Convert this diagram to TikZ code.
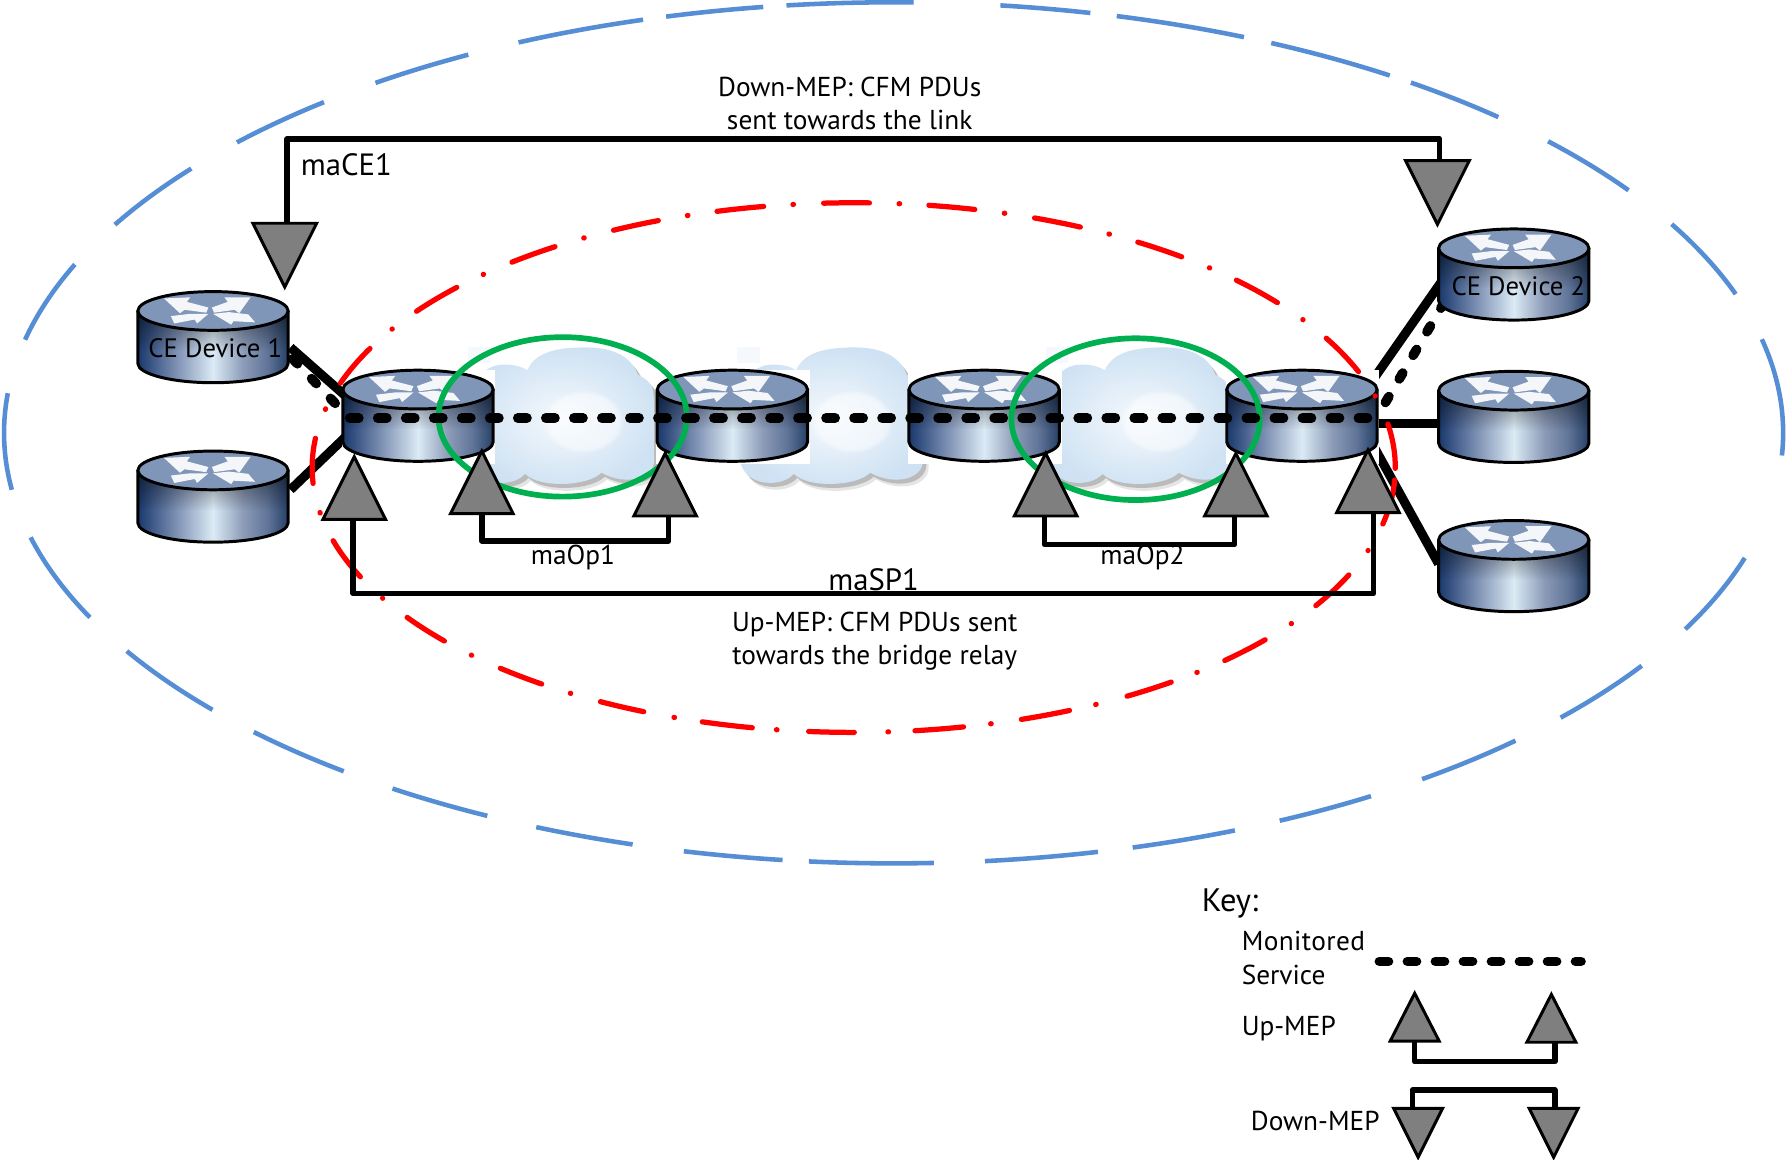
\documentclass[tikz,border=0pt]{standalone}
\usepackage{fontspec}
\setmainfont{PT Sans}
\usetikzlibrary{shapes.geometric,fadings,calc}
\definecolor{bluedash}{HTML}{558ED5}
\definecolor{greenring}{HTML}{00B050}
\definecolor{routertop}{HTML}{7F96B8}
\definecolor{meptri}{HTML}{7F7F7F}
\definecolor{cloudedge}{HTML}{CFE2F3}
\definecolor{cloudmid}{HTML}{F5F9FD}
\definecolor{iconwhite}{HTML}{F4F6FA}
\pgfdeclarehorizontalshading{routerbody}{100bp}{
  rgb(0bp)=(0.10,0.22,0.42);
  rgb(25bp)=(0.10,0.22,0.42);
  rgb(31bp)=(0.28,0.38,0.56);
  rgb(40bp)=(0.56,0.63,0.75);
  rgb(50bp)=(0.86,0.92,0.96);
  rgb(60bp)=(0.55,0.61,0.72);
  rgb(68bp)=(0.38,0.46,0.60);
  rgb(75bp)=(0.15,0.25,0.40);
  rgb(100bp)=(0.15,0.25,0.40)}
\tikzset{
  wire/.style={line width=4.8pt,line join=round},
  thickwire/.style={line width=8pt},
  service/.style={line width=8.5pt,dash pattern=on 8pt off 16.6pt,line cap=round},
  svcwire/.style={line width=8.5pt,dash pattern=on 6pt off 18pt,line cap=round},
  bluearc/.style={bluedash,line width=4pt},
  redarc/.style={red,line width=4.6pt,line cap=round},
  ring/.style={greenring,line width=5pt},
  upmep/.style={shape=isosceles triangle,isosceles triangle stretches,shape border rotate=90,minimum width=55pt,minimum height=55pt,inner sep=0pt,outer sep=0pt,draw=black,line width=2.6pt,fill=meptri,anchor=lower side},
  downmep/.style={shape=isosceles triangle,isosceles triangle stretches,shape border rotate=-90,minimum width=56pt,minimum height=56pt,inner sep=0pt,outer sep=0pt,draw=black,line width=2.6pt,fill=meptri,anchor=lower side},
  keyup/.style={upmep,minimum width=43pt,minimum height=42pt},
  keydown/.style={downmep,minimum width=43pt,minimum height=43pt},
  routerbox/.style={minimum width=132pt,minimum height=80pt,inner sep=0pt,outer sep=0pt},
  lbl/.style={inner sep=0pt,font=\fontsize{24}{29}\selectfont,align=center},
  devlbl/.style={inner sep=0pt,font=\fontsize{23.4}{28}\selectfont},
  biglbl/.style={inner sep=0pt,font=\fontsize{27}{32}\selectfont},
  keylbl/.style={inner sep=0pt,font=\fontsize{28.5}{32}\selectfont},
}
\newcommand{\routergfx}[3]{% name, left, top
  \begin{scope}[shift={(#2,#3)}]
    \shade[shading=routerbody] (0,17) -- (0,63) arc[start angle=180,end angle=0,x radius=66,y radius=17] -- (132,17) -- cycle;
    \fill[black,opacity=.5,path fading=south] (0,17) rectangle (132,52);
    \draw[line width=2.6pt] (0,17) -- (0,63) arc[start angle=180,end angle=0,x radius=66,y radius=17] -- (132,17);
    \draw[line width=2.6pt,fill=routertop] (66,17) ellipse[x radius=66,y radius=17];
    \fill[iconwhite] (23,6) -- (46,5) -- (43,9) -- (62,14) -- (60,18.5) -- (41,16) -- (37,19) -- cycle;
    \fill[iconwhite] (29,21.5) -- (46,19.5) -- (62,19.5) -- (52,28) -- (50,24.5) -- (32,28) -- cycle;
    \fill[iconwhite] (99,5) -- (76,5) -- (79,9) -- (65,14) -- (67,18.5) -- (85,16) -- (89,19) -- cycle;
    \fill[iconwhite] (66,19.5) -- (80,18) -- (97,20) -- (103,27) -- (84,26) -- (82,29) -- cycle;
    \node[routerbox] (#1) at (66,40) {};
  \end{scope}}
\newcommand{\cloudpath}{(-80,50) .. controls (-78,28) and (-70,16) .. (-52,15) .. controls (-42,15) and (-36,17) .. (-31,20) .. controls (-24,4) and (-5,0) .. (20,0) .. controls (45,0) and (60,8) .. (66,24) .. controls (74,28) and (80,32) .. (80,45) -- (80,95) .. controls (84,116) and (55,122) .. (34,110) .. controls (22,122) and (-20,124) .. (-33,111) .. controls (-45,125) and (-85,122) .. (-80,90) -- cycle}
\newcommand{\cloudgfx}[1]{%
  \begin{scope}[shift={(#1,305)}]
    \fill[black,opacity=.10] [shift={(5,6)}] \cloudpath;
    \fill[black,opacity=.18] [shift={(3,3.5)}] \cloudpath;
    \fill[cloudmid] (-83,0) rectangle (-63,14);
    \shade[inner color=cloudmid,outer color=cloudedge] \cloudpath;
    \fill[white,opacity=.5,path fading=circle with fuzzy edge 15 percent] (18,65) ellipse[x radius=36,y radius=28];
  \end{scope}}
\begin{document}
\begin{tikzpicture}[x=1pt,y=-1pt]
\useasboundingbox[fill=white] (0,0) rectangle (1568,1018.4);
% blue outer dashes
\foreach \xa/\ya/\xb/\yb in {20/298/65/232,100/197/168/148,208/125/285/90,330/73/410/47,455/37/565/18,585/15/670/6,690/3/802/3,878/6/957/12,980/15/1090/35,1112/42/1215/70,1238/73/1315/103,1357/125/1430/167,1467/197/1525/258,1545/298/1567/400,1533/490/1478/552,1443/585/1370/630,1330/650/1250/685,1205/700/1125/722,1085/730/995/745,965/750/865/757,820/758/710/757,687/755/600/748,555/742/470/727,427/717/345/692,302/677/222/643,182/625/110/572,75/543/25/472,10/430/3/345}{
  \pgfmathsetmacro\ta{atan2((\ya-380)/378,(\xa-784.5)/781)}
  \pgfmathsetmacro\tb{atan2((\yb-380)/378,(\xb-784.5)/781)}
  \pgfmathsetmacro\tc{\tb<\ta ? \tb+360 : \tb}
  \draw[bluearc] ({784.5+781*cos(\ta)},{380+378*sin(\ta)}) arc[start angle=\ta,end angle=\tc,x radius=781,y radius=378];
}
% clouds
\cloudgfx{494}
\cloudgfx{730}
\cloudgfx{1001}
% wires
\coordinate (ce1a) at (255,305);
\coordinate (r3a) at (305,349);
\coordinate (ce1b) at (257,315);
\coordinate (r3b) at (298,358);
\coordinate (r2a) at (255,430);
\coordinate (r3c) at (305,382);
\coordinate (ce2a) at (1265,248);
\coordinate (r6a) at (1205,334);
\coordinate (ce2b) at (1268,265.4);
\coordinate (r6b) at (1213,359);
\coordinate (r8a) at (1263,372);
\coordinate (r6c) at (1205,372);
\coordinate (r9a) at (1263,495);
\coordinate (r6d) at (1205,390);
\draw[thickwire] (ce1a) -- (r3a);
\draw[svcwire] (ce1b) -- (r3b);
\draw[thickwire] (r2a) -- (r3c);
\draw[thickwire] (ce2a) -- (r6a);
\draw[thickwire] (r8a) -- (r6c);
\draw[thickwire] (r9a) -- (r6d);
% routers
\fill[white] (300,325) rectangle (435,407);
\fill[white] (576,325) rectangle (711,407);
\fill[white] (797,325) rectangle (932,407);
\fill[white] (1076.5,325) rectangle (1211,407);
\draw[svcwire] (ce2b) -- (r6b);
\routergfx{ce1}{121}{256}
\routergfx{r2}{121}{396}
\routergfx{r3}{301}{325}
\routergfx{r4}{577}{325}
\routergfx{r5}{798}{325}
\routergfx{r6}{1077}{325}
\routergfx{ce2}{1263}{201}
\routergfx{r8}{1263}{326}
\routergfx{r9}{1263}{457}
% red inner dashes
\foreach \xa/\ya/\xb/\yb in {300/336.5/325/306,344.4/289/344.9/289,366.7/273.6/401/252.3,424.4/241/424.9/241,449.8/230.3/487.3/216.6,512.2/208.7/512.7/208.7,538.5/202/578/193.8,603.2/188.8/603.7/188.8,629.2/185/670.2/180.6,696/179/696.5/179,723/178/763.3/178,789.3/179/789.8/179,815.6/180/856/183.5,882/186.7/882.5/186.7,908.7/190.8/948.2/199.6,973.7/205.4/974.2/205.4,999.4/212.2/1037.5/225.4,1061.5/235.3/1062/235.3,1085.8/245.8/1121.5/265.7,1143.4/280.7/1143.9/280.7,1164.2/297/1192.6/326.3,1206.6/347.7/1207/347.7,1218/372.3/1224.2/411.2,1224/421.4/1214/460,1200.5/483.2/1200/483.2,1184.4/504.8/1154.5/531.5,1133.5/547.3/1133/547.3,1111.5/562/1075.5/580,1051.2/590.3/1050.7/590.3,1027/598/988/610,962/618/961.5/618,940/625/897/632,870/635/869.5/635,845/636/803/640,780/642/779.5/642,750/643/710/642,682/641/681.5/641,660/640/617/633,591.8/630.4/591.3/630.4,565.4/624.5/526.8/616.3,500.7/609/500.2/609,475.6/600.5/439/586.8,413.8/575.4/413.3/575.4,390/562.8/357.6/542,335.7/525.3/335.2/525.3,316.9/506.3/292.7/474.7,281.2/450.4/281/450,275/424.4/276.9/384.8,286/359.4/286.1/359}{
  \pgfmathsetmacro\ta{atan2((\ya-410.5)/232.5,(\xa-749.5)/475.5)}
  \pgfmathsetmacro\tb{atan2((\yb-410.5)/232.5,(\xb-749.5)/475.5)}
  \pgfmathsetmacro\tc{\tb<\ta ? \tb+360 : \tb}
  \pgfmathsetmacro\td{\tc-\ta>180 ? \ta : \tc}
  \draw[redarc] ({749.5+475.5*cos(\ta)},{410.5+232.5*sin(\ta)}) arc[start angle=\ta,end angle=\td,x radius=475.5,y radius=232.5];
}
% green rings
\node[draw=none,inner sep=0pt] (ringa) at (494,366) {};
\node[draw=none,inner sep=0pt] (ringb) at (997,368) {};
\draw[ring] (ringa) ellipse[x radius=109,y radius=70];
\draw[ring] (ringb) ellipse[x radius=109,y radius=71];
% connectors
\node[downmep] (mce1) at (250,196) {};
\node[downmep] (mce2) at (1262,141) {};
\node[upmep] (msp1) at (311,456) {};
\node[upmep] (msp2) at (1201,450) {};
\node[upmep] (mop1a) at (423,451) {};
\node[upmep] (mop1b) at (584,453) {};
\node[upmep] (mop2a) at (918,453) {};
\node[upmep] (mop2b) at (1085,453) {};
\draw[wire] (252,196) |- (1264,122) -- (1264,141);
\draw[wire] (310,456) |- (1206,521) -- (1206,450);
\draw[wire] (423,451) |- (587,475) -- (587,453);
\draw[wire] (917,453) |- (1084,478) -- (1084,453);
% monitored service
\coordinate (sva) at (307,367);
\coordinate (svb) at (1210,367);
\draw[service] (sva) -- (svb);
% texts
\node[lbl] (t1) at (746,90.5) {Down-MEP: CFM PDUs\\sent towards the link};
\node[biglbl,anchor=west] (t2) at (264,145) {maCE1};
\node[lbl] (t3) at (503,489.5) {maOp1};
\node[lbl] (t4) at (1003,489.5) {maOp2};
\node[biglbl] (t5) at (767,509) {maSP1};
\node[lbl] (t6) at (768,563) {Up-MEP: CFM PDUs sent\\towards the bridge relay};
\node[devlbl] (t7) at (189,306) {CE Device 1};
\node[devlbl] (t8) at (1333,251) {CE Device 2};
% key
\node[keylbl,anchor=west] (k1) at (1055,793) {Key:};
\node[lbl,anchor=west] (k2) at (1090,826) {\addfontfeature{LetterSpace=1.5}Monitored};
\node[lbl,anchor=west] (k3) at (1090,856) {Service};
\node[lbl,anchor=west] (k4) at (1090,903) {Up-MEP};
\node[lbl,anchor=west] (k5) at (1098,984) {Down-MEP};
\coordinate (kla) at (1211,844);
\coordinate (klb) at (1388,844);
\draw[service] (kla) -- (klb);
\node[keyup] (ku1) at (1242,914) {};
\node[keyup] (ku2) at (1362,915) {};
\node[keydown] (kd1) at (1245,973) {};
\node[keydown] (kd2) at (1364,973) {};
\draw[wire] (1242,914) |- (1365,932) -- (1365,915);
\draw[wire] (1240,973) |- (1365,957) -- (1365,973);
\end{tikzpicture}
\end{document}
